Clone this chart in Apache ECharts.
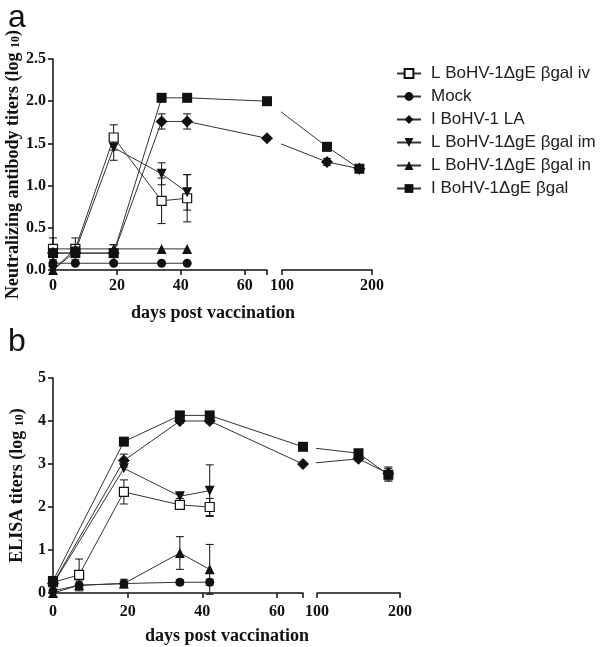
<!DOCTYPE html>
<html><head><meta charset="utf-8">
<script src="https://cdn.jsdelivr.net/npm/echarts@6/dist/echarts.min.js"></script>
<style>html,body{margin:0;padding:0;background:#fff}#c{width:600px;height:647px}</style>
</head><body><div id="c"></div>
<script>
// ---------- data ----------
const seriesNames = ['L BoHV-1ΔgE βgal iv','Mock','I BoHV-1 LA','L BoHV-1ΔgE βgal im','L BoHV-1ΔgE βgal in','I BoHV-1ΔgE βgal'];
const daysEarly = [0, 7, 19, 34, 42];
const daysLong = [0, 7, 19, 34, 42, 67];
const daysLongB = [0, 19, 34, 42, 67];
const daysShortB = [0, 19, 34, 42];
const daysRight = [150, 186];

const ticksA = [0, 0.5, 1.0, 1.5, 2.0, 2.5];
const ticksB = [0, 1, 2, 3, 4, 5];
const xTicksLeft = [0, 20, 40, 60];
const xTicksRight = [100, 200];

// panel a: neutralizing antibody titers
const ivA = [0.25, 0.25, 1.57, 0.82, 0.85];      const ivAerr = [0.13, 0.13, 0.15, 0.27, 0.28];
const mockA = [0.08, 0.08, 0.08, 0.08, 0.08];   const mockAerr = [0, 0, 0, 0, 0];
const laA = [0.2, 0.2, 0.2, 1.76, 1.76, 1.56];  const laAerr = [0, 0, 0.1, 0.09, 0.09, 0];
const laAr = [1.28, 1.2];                        const laArerr = [0.04, 0.03];
const imA = [0.0, 0.22, 1.45, 1.14, 0.92];      const imAerr = [0, 0.05, 0.15, 0.13, 0.21];
const inA = [0.0, 0.25, 0.25, 0.25, 0.25];      const inAerr = [0, 0, 0, 0, 0];
const gbA = [0.2, 0.2, 0.2, 2.04, 2.04, 2.0];   const gbAerr = [0.1, 0.05, 0.1, 0, 0, 0];
const gbAr = [1.46, 1.2];                        const gbArerr = [0.05, 0.03];

// panel b: ELISA titers
const ivB = [0.25, 0.42, 2.35, 2.05, 2.0];      const ivBerr = [0.05, 0.37, 0.28, 0.1, 0.2];
const mockB = [0.05, 0.18, 0.22, 0.25, 0.25];   const mockBerr = [0, 0, 0, 0.06, 0.07];
const laB = [0.22, 3.08, 4.0, 4.0, 3.0];        const laBerr = [0, 0.15, 0.05, 0.05, 0];
const laBr = [3.12, 2.78];                       const laBrerr = [0.05, 0.15];
const imB = [0.2, 2.9, 2.25, 2.38];             const imBerr = [0, 0, 0.05, 0.6];
const inB = [0.0, 0.18, 0.22, 0.93, 0.55];      const inBerr = [0, 0.1, 0.1, 0.38, 0.58];
const gbB = [0.28, 3.52, 4.13, 4.13, 3.4];      const gbBerr = [0.05, 0.05, 0.05, 0.05, 0];
const gbBr = [3.25, 2.75];                       const gbBrerr = [0.05, 0.15];

// ---------- styles ----------
const INK = '#111';
const LINE = '#333';
const serif = 'Liberation Serif';
const sans = 'Liberation Sans';
const marker = {
  'L BoHV-1ΔgE βgal iv': {symbol: 'rect', size: 9, fill: '#fff', rot: 0},
  'Mock': {symbol: 'circle', size: 9, fill: INK, rot: 0},
  'I BoHV-1 LA': {symbol: 'diamond', size: 12, fill: INK, rot: 0},
  'L BoHV-1ΔgE βgal im': {symbol: 'triangle', size: 10, fill: INK, rot: 180},
  'L BoHV-1ΔgE βgal in': {symbol: 'triangle', size: 10, fill: INK, rot: 0},
  'I BoHV-1ΔgE βgal': {symbol: 'rect', size: 10, fill: INK, rot: 0}
};

const zip = (xs, ys) => xs.map((x, i) => [x, ys[i]]);
const zip3 = (xs, ys, es) => xs.map((x, i) => [x, ys[i], es[i]]).filter(d => d[2] > 0);

const series = [];
function addLine(name, axisIdx, days, vals) {
  const m = marker[name];
  series.push({
    type: 'line', name: name, xAxisIndex: axisIdx, yAxisIndex: axisIdx,
    data: zip(days, vals), symbol: m.symbol, symbolSize: m.size, symbolRotate: m.rot,
    showAllSymbol: true, clip: false, z: 3,
    lineStyle: {color: LINE, width: 1},
    itemStyle: {color: m.fill, borderColor: INK, borderWidth: m.fill === '#fff' ? 1.2 : 0, opacity: 1},
    emphasis: {disabled: true}
  });
}
function renderErr(params, api) {
  const x = api.value(0), y = api.value(1), e = api.value(2);
  const top = api.coord([x, y + e]);
  const bot = api.coord([x, y - e]);
  const cw = 4;
  const st = {stroke: INK, lineWidth: 1};
  return {type: 'group', children: [
    {type: 'line', shape: {x1: top[0], y1: top[1], x2: bot[0], y2: bot[1]}, style: st},
    {type: 'line', shape: {x1: top[0] - cw, y1: top[1], x2: top[0] + cw, y2: top[1]}, style: st},
    {type: 'line', shape: {x1: bot[0] - cw, y1: bot[1], x2: bot[0] + cw, y2: bot[1]}, style: st}
  ]};
}
function addErr(axisIdx, days, vals, errs) {
  const d = zip3(days, vals, errs);
  if (!d.length) return;
  series.push({type: 'custom', xAxisIndex: axisIdx, yAxisIndex: axisIdx, data: d,
    renderItem: renderErr, encode: {x: 0, y: 1}, clip: false, z: 2, silent: true});
}
function add(name, axisIdx, days, vals, errs) { addErr(axisIdx, days, vals, errs); addLine(name, axisIdx, days, vals); }

// panel a (axes 0 left, 1 right)
add(seriesNames[0], 0, daysEarly, ivA, ivAerr);
add(seriesNames[1], 0, daysEarly, mockA, mockAerr);
add(seriesNames[2], 0, daysLong, laA, laAerr);
add(seriesNames[2], 1, daysRight, laAr, laArerr);
add(seriesNames[3], 0, daysEarly, imA, imAerr);
add(seriesNames[4], 0, daysEarly, inA, inAerr);
add(seriesNames[5], 0, daysLong, gbA, gbAerr);
add(seriesNames[5], 1, daysRight, gbAr, gbArerr);
// panel b (axes 2 left, 3 right)
add(seriesNames[0], 2, daysEarly, ivB, ivBerr);
add(seriesNames[1], 2, daysEarly, mockB, mockBerr);
add(seriesNames[2], 2, daysLongB, laB, laBerr);
add(seriesNames[2], 3, daysRight, laBr, laBrerr);
add(seriesNames[3], 2, daysShortB, imB, imBerr);
add(seriesNames[4], 2, daysEarly, inB, inBerr);
add(seriesNames[5], 2, daysLongB, gbB, gbBerr);
add(seriesNames[5], 3, daysRight, gbBr, gbBrerr);

// ---------- axes ----------
const lblStyle = {color: INK, fontFamily: serif, fontWeight: 'bold', fontSize: 16};
function xLeft(gi, margin) {
  return {type: 'value', gridIndex: gi, min: 0, max: 67, interval: 20,
    axisLine: {lineStyle: {color: INK, width: 1.5}},
    axisTick: {length: 5, lineStyle: {color: INK, width: 1.5}, customValues: xTicksLeft.concat([67])},
    axisLabel: Object.assign({customValues: xTicksLeft, margin: margin}, lblStyle),
    splitLine: {show: false}};
}
function xRight(gi, margin) {
  return {type: 'value', gridIndex: gi, min: 100, max: 200, interval: 100,
    axisLine: {lineStyle: {color: INK, width: 1.5}},
    axisTick: {length: 5, lineStyle: {color: INK, width: 1.5}, customValues: xTicksRight},
    axisLabel: Object.assign({customValues: xTicksRight, margin: margin, showMinLabel: true, showMaxLabel: true}, lblStyle),
    splitLine: {show: false}};
}
function yAxis(gi, ticks, name, show, dec, gap) {
  return {type: 'value', gridIndex: gi, min: ticks[0], max: ticks[ticks.length - 1],
    interval: ticks[1] - ticks[0], show: show,
    axisLine: {show: true, lineStyle: {color: INK, width: 1.5}},
    axisTick: {show: true, length: 5, lineStyle: {color: INK, width: 1.5}},
    axisLabel: Object.assign({margin: 7, formatter: v => v.toFixed(dec)}, lblStyle),
    splitLine: {show: false},
    name: name, nameLocation: 'middle', nameRotate: 90, nameGap: gap,
    nameTextStyle: {color: INK, fontFamily: serif, fontWeight: 'bold', fontSize: 18,
      rich: {s: {fontFamily: serif, fontWeight: 'bold', fontSize: 12, color: INK, padding: [6, 0, 0, 0]}}}
  };
}

const option = {
  animation: false,
  backgroundColor: '#fff',
  grid: [
    {left: 53, top: 59, width: 214, height: 211},
    {left: 282, top: 59, width: 90, height: 211},
    {left: 53, top: 378, width: 250, height: 215},
    {left: 317, top: 378, width: 83, height: 215}
  ],
  xAxis: [xLeft(0, 8), xRight(1, 8), xLeft(2, 11), xRight(3, 11)],
  yAxis: [
    yAxis(0, ticksA, 'Neutralizing antibody titers (log {s|10})', true, 1, 30),
    yAxis(1, ticksA, '', false, 1, 30),
    yAxis(2, ticksB, 'ELISA titers (log {s|10})', true, 0, 27),
    yAxis(3, ticksB, '', false, 0, 27)
  ],
  legend: {
    data: seriesNames, orient: 'vertical', left: 391, top: 60,
    itemWidth: 24, itemHeight: 11, itemGap: 6,
    textStyle: {fontFamily: sans, fontSize: 17, color: '#222', padding: [0, 0, 0, 5]},
    selectedMode: false
  },
  graphic: [
    {type: 'text', left: 8, top: 2, style: {text: 'a', font: '32px "Liberation Sans"', fill: INK}},
    {type: 'text', left: 8, top: 326, style: {text: 'b', font: '32px "Liberation Sans"', fill: INK}},
    {type: 'text', x: 213, y: 313, style: {text: 'days post vaccination', font: 'bold 18px "Liberation Serif"', fill: INK, align: 'center', verticalAlign: 'middle'}},
    {type: 'text', x: 227, y: 636, style: {text: 'days post vaccination', font: 'bold 18px "Liberation Serif"', fill: INK, align: 'center', verticalAlign: 'middle'}}
  ],
  series: series
};

const chart = echarts.init(document.getElementById('c'), null, {renderer: 'canvas'});
chart.setOption(option);

// bridging segments across the axis break, clipped by each grid
function bridge(leftIdx, rightIdx, dayA, yA, dayB, yB) {
  const pB = chart.convertToPixel({gridIndex: rightIdx}, [dayB, yB]);
  const pA = chart.convertToPixel({gridIndex: leftIdx}, [dayA, yA]);
  const bInLeft = chart.convertFromPixel({gridIndex: leftIdx}, pB);
  const aInRight = chart.convertFromPixel({gridIndex: rightIdx}, pA);
  const st = {type: 'line', symbol: 'none', clip: true, silent: true, z: 1, lineStyle: {color: LINE, width: 1}};
  option.series.push(Object.assign({xAxisIndex: leftIdx, yAxisIndex: leftIdx, data: [[dayA, yA], bInLeft]}, st));
  option.series.push(Object.assign({xAxisIndex: rightIdx, yAxisIndex: rightIdx, data: [aInRight, [dayB, yB]]}, st));
}
bridge(0, 1, daysLong[5], laA[5], daysRight[0], laAr[0]);
bridge(0, 1, daysLong[5], gbA[5], daysRight[0], gbAr[0]);
bridge(2, 3, daysLongB[4], laB[4], daysRight[0], laBr[0]);
bridge(2, 3, daysLongB[4], gbB[4], daysRight[0], gbBr[0]);
chart.setOption(option);
</script></body></html>
